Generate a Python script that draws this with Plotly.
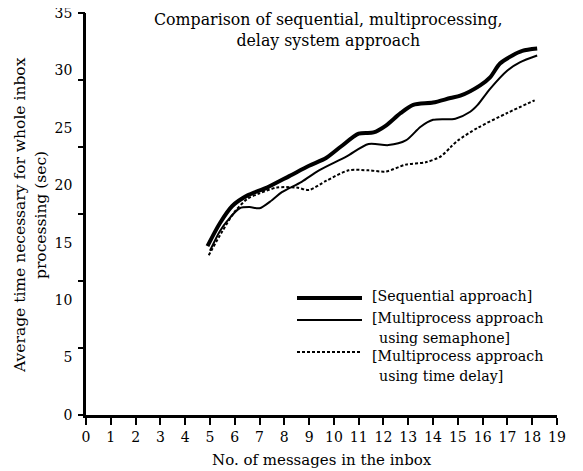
import plotly.graph_objects as go

# Data
seq_x = [4.9, 5.4, 5.9, 6.5, 7.3, 8.2, 9.0, 9.7, 10.3, 11.0, 11.6, 12.1, 12.7, 13.2, 14.0, 14.7, 15.1, 15.9, 16.3, 16.7, 17.2, 17.6, 18.2]
seq_y = [14.7, 16.7, 18.2, 19.1, 19.8, 20.8, 21.7, 22.4, 23.4, 24.5, 24.6, 25.2, 26.3, 27.0, 27.2, 27.6, 27.8, 28.7, 29.4, 30.6, 31.3, 31.7, 31.9]

sem_x = [5.0, 5.4, 5.7, 6.2, 6.6, 7.0, 7.5, 7.9, 8.7, 9.4, 10.5, 11.4, 12.2, 12.9, 13.5, 14.0, 14.9, 15.5, 15.8, 16.3, 17.0, 17.5, 18.2]
sem_y = [14.3, 16.0, 16.9, 18.0, 18.1, 18.0, 18.7, 19.4, 20.3, 21.3, 22.5, 23.6, 23.5, 23.9, 25.1, 25.7, 25.8, 26.4, 27.0, 28.4, 30.0, 30.7, 31.3]

del_x = [4.95, 5.5, 6.0, 6.5, 7.0, 7.7, 8.5, 9.0, 9.7, 10.6, 11.4, 12.1, 12.9, 13.7, 14.3, 14.7, 15.0, 15.8, 17.0, 18.1]
del_y = [13.9, 16.0, 17.7, 18.8, 19.3, 19.8, 19.8, 19.6, 20.4, 21.3, 21.3, 21.2, 21.8, 22.0, 22.5, 23.3, 23.9, 25.0, 26.3, 27.4]

x_ticks = list(range(0, 20))
y_labels = [0, 5, 10, 15, 20, 25, 30, 35]
# the scanned axis carries its tick marks at sixths of the range
y_marks = [0, 35 / 6, 70 / 6, 105 / 6, 140 / 6, 175 / 6, 35]

legend_names = ["[Sequential approach]",
                "[Multiprocess approach", "using semaphone]",
                "[Multiprocess approach", "using time delay]"]

FONT = "DejaVu Serif"
OFF = 8  # page body margin
W, H = 583 - OFF, 471 - OFF
ML, MR = 86 - OFF, 26
MT, MB = 13 - OFF, 471 - 415
PW, PH = W - ML - MR, H - MT - MB


def paper(px, py):
    # px, py given in the reference picture's pixel coordinates
    return (px - OFF - ML) / PW, (H - MB - (py - OFF)) / PH


fig = go.Figure()
fig.add_trace(go.Scatter(x=seq_x, y=seq_y, mode="lines", line=dict(color="black", width=4, shape="spline", smoothing=0.8), showlegend=False))
fig.add_trace(go.Scatter(x=sem_x, y=sem_y, mode="lines", line=dict(color="black", width=2, shape="spline", smoothing=0.8), showlegend=False))
fig.add_trace(go.Scatter(x=del_x, y=del_y, mode="lines", line=dict(color="black", width=2, dash="3px,2px", shape="spline", smoothing=0.8), showlegend=False))
# invisible trace to carry the overlay y axis with tick marks
fig.add_trace(go.Scatter(x=[None], y=[None], yaxis="y2", showlegend=False, hoverinfo="skip"))

anns = []
tx, ty = paper(328, 8)
anns.append(dict(text="Comparison of sequential, multiprocessing,<br>delay system approach",
                 xref="paper", yref="paper", x=tx, y=ty, xanchor="center", yanchor="top",
                 showarrow=False, font=dict(size=15.8), align="center"))
# y axis title (two lines)
for px, txt in [(20, "Average time necessary for whole inbox"), (41, "processing (sec)")]:
    ax_, ay_ = paper(px, 215)
    anns.append(dict(text=txt, xref="paper", yref="paper", x=ax_, y=ay_, xanchor="center", yanchor="middle",
                     textangle=-90, showarrow=False, font=dict(size=15.5)))
# x axis title
ax_, ay_ = paper(322, 460)
anns.append(dict(text="No. of messages in the inbox", xref="paper", yref="paper", x=ax_, y=ay_,
                 xanchor="center", yanchor="middle", showarrow=False, font=dict(size=15)))

# legend drawn manually
shapes = []
samples = [(298, 4, None), (320, 2, None), (352, 2, "3px,2px")]
for ly, w, dash in samples:
    x0, y0 = paper(297, ly)
    x1, _ = paper(362, ly)
    line = dict(color="black", width=w)
    if dash:
        line["dash"] = dash
    shapes.append(dict(type="line", xref="paper", yref="paper", x0=x0, x1=x1, y0=y0, y1=y0, line=line))
text_pos = [(370, 296), (370, 318), (377, 338), (370, 356), (377, 376)]
for (px, py), txt in zip(text_pos, legend_names):
    lx, ly = paper(px, py)
    anns.append(dict(text=txt, xref="paper", yref="paper", x=lx, y=ly, xanchor="left", yanchor="middle",
                     showarrow=False, font=dict(size=14.2)))

fig.update_layout(
    width=W, height=H,
    margin=dict(l=ML, r=MR, t=MT, b=MB),
    plot_bgcolor="white", paper_bgcolor="white",
    font=dict(family=FONT, size=15, color="black"),
    xaxis=dict(range=[0, 19], tickvals=x_ticks, showgrid=False, zeroline=False, automargin=False,
               showline=True, linecolor="black", linewidth=2.5,
               ticks="outside", ticklen=7, tickwidth=2, tickcolor="black",
               ticklabeloverflow="allow", tickfont=dict(size=14)),
    yaxis=dict(range=[0, 35], tickvals=y_labels, showgrid=False, zeroline=False, automargin=False,
               showline=True, linecolor="black", linewidth=2.5,
               ticks="", ticklabelstandoff=8, ticklabeloverflow="allow",
               tickfont=dict(size=14)),
    yaxis2=dict(range=[0, 35], overlaying="y", side="left", tickvals=y_marks, showticklabels=False,
                showgrid=False, zeroline=False, automargin=False, showline=False,
                ticks="outside", ticklen=7, tickwidth=2, tickcolor="black"),
    annotations=anns,
    shapes=shapes,
)

fig.write_html("out.html")
